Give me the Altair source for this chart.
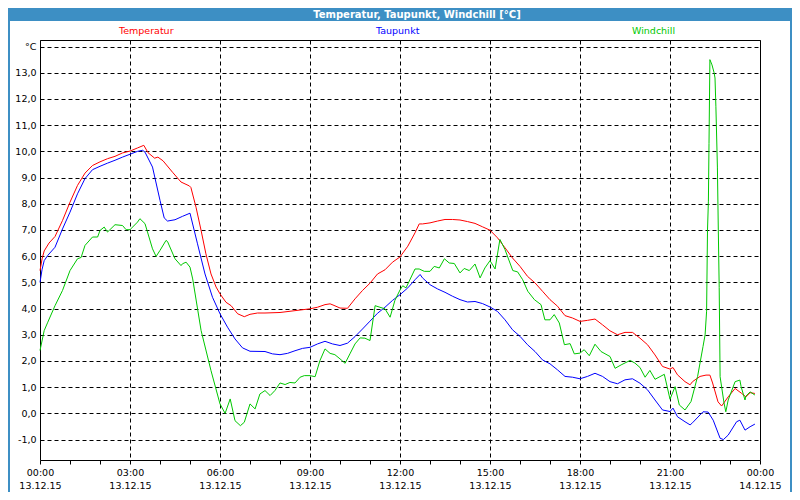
import json
import altair as alt
import pandas as pd

TITLE = "Temperatur, Taupunkt, Windchill [°C]"
SERIES = ["Temperatur", "Taupunkt", "Windchill"]
COLORS = ["#ff0000", "#0000ff", "#00c800"]

# hours since 13.12.15 00:00 and values in °C
TEMP_H = [0.00, 0.07, 0.14, 0.3, 0.5, 0.75, 1.0, 1.25, 1.5, 1.75, 2.0, 2.25, 2.5, 2.75, 3.0, 3.25, 3.46,
          3.6, 3.82, 3.93, 4.1, 4.42, 4.7, 4.98, 5.03, 5.2, 5.37, 5.53, 5.7, 5.87, 6.0, 6.2, 6.37, 6.59,
          6.81, 7.0, 7.25, 7.5, 8.0, 8.5, 9.0, 9.25, 9.5, 9.67, 9.8, 10.0, 10.25, 10.5, 10.75, 11.0, 11.25,
          11.5, 11.75, 12.0, 12.26, 12.5, 12.64, 12.75, 13.0, 13.25, 13.5, 13.75, 14.0, 14.25, 14.5, 14.75,
          15.0, 15.25, 15.5, 15.75, 16.0, 16.25, 16.5, 16.75, 17.0, 17.25, 17.5, 17.75, 18.0, 18.25, 18.5,
          18.75, 19.0, 19.25, 19.5, 19.75, 20.0, 20.25, 20.5, 20.75, 21.0, 21.1, 21.25, 21.5, 21.67, 21.75,
          22.0, 22.2, 22.33, 22.42, 22.6, 22.72, 22.94, 23.17, 23.39, 23.53, 23.67, 23.83]
TEMP_V = [5.45, 5.9, 6.2, 6.5, 6.75, 7.36, 8.06, 8.7, 9.17, 9.46, 9.6, 9.72, 9.81, 9.94, 10.01, 10.13, 10.23,
          9.95, 9.74, 9.78, 9.64, 9.2, 8.83, 8.68, 8.62, 7.87, 6.98, 6.09, 5.32, 4.82, 4.56, 4.24, 4.11, 3.8,
          3.69, 3.78, 3.83, 3.83, 3.85, 3.92, 3.99, 4.05, 4.15, 4.18, 4.12, 4.02, 4.01, 4.37, 4.69, 4.97, 5.32,
          5.48, 5.77, 5.97, 6.38, 6.89, 7.23, 7.23, 7.27, 7.34, 7.4, 7.4, 7.38, 7.32, 7.25, 7.12,
          6.99, 6.7, 6.32, 5.93, 5.61, 5.23, 4.98, 4.66, 4.34, 4.09, 3.73, 3.64, 3.51, 3.55, 3.6,
          3.38, 3.15, 3.0, 3.09, 3.09, 2.87, 2.62, 2.23, 1.79, 1.69, 1.75, 1.47, 1.21, 1.09, 1.21,
          1.41, 1.46, 1.46, 1.16, 0.44, 0.28, 0.63, 0.95, 0.76, 0.63, 0.79, 0.76]

DEW_H = [0.0, 0.07, 0.14, 0.26, 0.5, 0.75, 1.0, 1.25, 1.5, 1.75, 2.0, 2.25, 2.5, 2.75, 3.0, 3.25, 3.42, 3.5,
         3.75, 4.0, 4.14, 4.25, 4.5, 4.75, 5.0, 5.25, 5.5, 5.75, 6.0, 6.25, 6.5, 6.75, 7.0, 7.5, 7.75, 8.0,
         8.25, 8.5, 8.75, 9.0, 9.25, 9.5, 9.75, 10.0, 10.25, 10.5, 10.75, 11.0, 11.25, 11.5, 11.75, 12.0,
         12.26, 12.5, 12.67, 12.75, 13.0, 13.25, 13.5, 13.75, 14.0, 14.25, 14.5, 14.75, 15.0, 15.25, 15.5,
         15.75, 16.0, 16.25, 16.5, 16.75, 17.0, 17.25, 17.5, 17.75, 18.0, 18.25, 18.5, 18.75, 19.0, 19.25,
         19.5, 19.75, 20.0, 20.25, 20.5, 20.75, 21.0, 21.1, 21.25, 21.5, 21.67, 21.75, 22.0, 22.1, 22.27,
         22.44, 22.67, 22.78, 22.94, 23.22, 23.33, 23.5, 23.67, 23.83]
DEW_V = [5.0, 5.5, 5.83, 6.03, 6.34, 7.04, 7.68, 8.38, 8.96, 9.3, 9.43, 9.55, 9.66, 9.78, 9.89, 10.0, 10.04, 9.97,
         9.4, 8.13, 7.46, 7.34, 7.39, 7.52, 7.64, 6.47, 5.32, 4.43, 3.8, 3.29, 2.84, 2.5, 2.37, 2.36, 2.27, 2.24,
         2.29, 2.39, 2.48, 2.52, 2.65, 2.75, 2.65, 2.59, 2.68, 2.93, 3.22, 3.52, 3.82, 4.05, 4.31, 4.53,
         4.79, 5.1, 5.3, 5.17, 4.91, 4.75, 4.62, 4.47, 4.34, 4.25, 4.27, 4.19, 4.06, 3.89, 3.57,
         3.19, 2.94, 2.62, 2.36, 2.04, 1.89, 1.66, 1.41, 1.38, 1.32, 1.41, 1.53, 1.41, 1.21, 1.13,
         1.28, 1.32, 1.15, 0.9, 0.51, 0.13, 0.07, 0.2, -0.13, -0.32, -0.44, -0.36, -0.06, 0.06, 0.05,
         -0.26, -0.95, -1.0, -0.83, -0.32, -0.26, -0.64, -0.51, -0.41]

WC_H = [0.0, 0.14, 0.26, 0.5, 0.75, 1.0, 1.25, 1.37, 1.5, 1.75, 1.92, 2.0, 2.14, 2.25, 2.5, 2.75, 2.87, 3.0,
        3.25, 3.33, 3.5, 3.75, 3.87, 4.0, 4.2, 4.25, 4.5, 4.7, 4.75, 4.87, 5.0, 5.09, 5.37, 5.7, 6.0, 6.17,
        6.34, 6.5, 6.68, 6.81, 7.0, 7.17, 7.33, 7.5, 7.67, 7.83, 8.0, 8.17, 8.33, 8.5, 8.67, 8.81, 9.0, 9.17,
        9.33, 9.5, 9.67, 9.83, 10.0, 10.17, 10.33, 10.5, 10.67, 10.83, 11.0, 11.17, 11.33, 11.5, 11.67, 11.83,
        12.0, 12.09, 12.2, 12.5, 12.64, 12.81, 13.0, 13.14, 13.31, 13.48, 13.64, 13.81, 14.0, 14.14, 14.31,
        14.5, 14.67, 14.83, 15.0, 15.17, 15.33, 15.5, 15.76, 15.92, 16.09, 16.26, 16.48, 16.7, 16.83, 17.0,
        17.14, 17.31, 17.48, 17.67, 17.81, 18.0, 18.14, 18.31, 18.5, 18.7, 19.0, 19.17, 19.37, 19.67, 19.83,
        20.0, 20.17, 20.33, 20.5, 20.81, 21.0, 21.17, 21.31, 21.5, 21.7, 21.92, 22.1, 22.17, 22.22, 22.25,
        22.28, 22.3, 22.33, 22.4, 22.47, 22.5, 22.53, 22.58, 22.61, 22.64, 22.67, 22.8, 22.86, 22.94, 23.17,
        23.33, 23.37, 23.5, 23.53, 23.67, 23.83]
WC_V = [2.4, 3.16, 3.48, 4.11, 4.69, 5.45, 5.9, 5.95, 6.41, 6.73, 6.73, 6.98, 7.11, 6.92, 7.2, 7.17, 7.01, 7.01,
        7.3, 7.43, 7.24, 6.28, 5.99, 6.22, 6.6, 6.56, 5.9, 5.64, 5.71, 5.77, 5.58, 5.13, 3.16, 1.63, 0.36, 0.0,
        0.55, -0.28, -0.47, -0.34, 0.36, 0.17, 0.74, 0.87, 0.68, 0.87, 1.16, 1.1, 1.18, 1.16, 1.38, 1.44, 1.44, 1.4,
        2.01, 2.46, 2.29, 2.24, 2.08, 1.91, 2.27, 2.65, 2.88, 2.87, 2.78, 4.11, 4.05, 3.99, 3.67, 4.31,
        4.71, 4.87, 4.79, 5.51, 5.51, 5.42, 5.42, 5.61, 5.55, 5.9, 5.74, 5.72, 5.36, 5.53, 5.45,
        5.7, 5.17, 5.55, 5.83, 5.51, 6.64, 6.25, 5.45, 5.4, 5.1, 4.66, 4.34, 4.15, 3.57, 3.57,
        3.77, 3.45, 2.62, 2.66, 2.27, 2.3, 2.43, 2.2, 2.64, 2.36, 2.17, 1.72, 1.85, 2.02, 1.92,
        1.75, 1.38, 1.64, 1.3, 1.49, 0.54, 1.02, 0.32, 0.13, 0.45, 1.41, 2.55, 3.0, 3.9, 7.0,
        8.1, 10.3, 13.5, 13.3, 13.0, 12.8, 11.7, 9.4, 7.0, 4.8, 1.4, 0.4, 0.06, 0.51, 1.21,
        1.27, 1.02, 0.51, 0.66, 0.82, 0.7]

X_TIMES = ["00:00", "03:00", "06:00", "09:00", "12:00", "15:00", "18:00", "21:00", "00:00"]
X_DATES = ["13.12.15", "13.12.15", "13.12.15", "13.12.15", "13.12.15", "13.12.15", "13.12.15", "13.12.15", "14.12.15"]
Y_LABELS = ["-1,0", "0,0", "1,0", "2,0", "3,0", "4,0", "5,0", "6,0", "7,0", "8,0", "9,0", "10,0",
            "11,0", "12,0", "13,0", "°C"]

rows = []
for name, hs, vs in zip(SERIES, [TEMP_H, DEW_H, WC_H], [TEMP_V, DEW_V, WC_V]):
    for h, v in zip(hs, vs):
        rows.append({"s": name, "h": h, "v": v})
df = pd.DataFrame(rows)

FONT = "DejaVu Sans"
BAR = "#3d8fc4"

x_expr = ("datum.value % 3 != 0 ? '' : [" + json.dumps(X_TIMES) + "[datum.value / 3], "
          + json.dumps(X_DATES) + "[datum.value / 3]]")
y_expr = json.dumps(Y_LABELS) + "[datum.value + 1]"

lines = alt.Chart(df).mark_line(strokeWidth=1).encode(
    x=alt.X("h:Q", scale=alt.Scale(domain=[0, 24], nice=False, zero=False),
            axis=alt.Axis(values=list(range(25)), title=None, domain=False, ticks=True, tickSize=4,
                          tickColor="black", grid=True, gridColor="black", gridDash=[4, 3],
                          gridOpacity={"condition": {"test": "datum.value % 3 == 0", "value": 1}, "value": 0},
                          labelExpr=x_expr, labelFont=FONT, labelFontSize=9.5, labelColor="black",
                          labelBaseline="top", labelLineHeight=13, labelPadding=3,
                          labelOverlap=False, labelFlush=False)),
    y=alt.Y("v:Q", scale=alt.Scale(domain=[-1.78, 14.25], nice=False, zero=False),
            axis=alt.Axis(values=list(range(-1, 15)), title=None, domain=False, ticks=False,
                          grid=True, gridColor="black", gridDash=[4, 3],
                          labelExpr=y_expr, labelFont=FONT, labelFontSize=9.5, labelColor="black",
                          labelPadding=4, labelOverlap=False, labelFlush=False)),
    color=alt.Color("s:N", scale=alt.Scale(domain=SERIES, range=COLORS), legend=None),
)

one = alt.Data(values=[{}])
bar = alt.Chart(one).mark_rect(color=BAR).encode(
    x=alt.value(-32), x2=alt.value(752), y=alt.value(-32), y2=alt.value(-19))
left_edge = alt.Chart(one).mark_rule(color=BAR, strokeWidth=2).encode(
    x=alt.value(-31), y=alt.value(-32), y2=alt.value(452))
right_edge = alt.Chart(one).mark_rule(color=BAR, strokeWidth=2).encode(
    x=alt.value(751), y=alt.value(-32), y2=alt.value(452))
title = alt.Chart(one).mark_text(font=FONT, fontSize=10, fontWeight="bold", color="white",
                                 align="center", baseline="middle").encode(
    x=alt.value(377), y=alt.value(-25.5), text=alt.value(TITLE))

legend_x = [79, 336, 592]
legends = [
    alt.Chart(one).mark_text(font=FONT, fontSize=9.5, color=c, align="left", baseline="middle").encode(
        x=alt.value(lx), y=alt.value(-9), text=alt.value(s))
    for s, c, lx in zip(SERIES, COLORS, legend_x)
]

chart = alt.layer(bar, left_edge, right_edge, title, *legends, lines).properties(
    width=720, height=420,
    autosize=alt.AutoSizeParams(type="none"),
    padding={"left": 32, "top": 32, "right": 32, "bottom": 32},
    background="white",
).configure_view(stroke="black", strokeWidth=1)

chart.save("out.html", embed_options={"renderer": "svg", "actions": False})
